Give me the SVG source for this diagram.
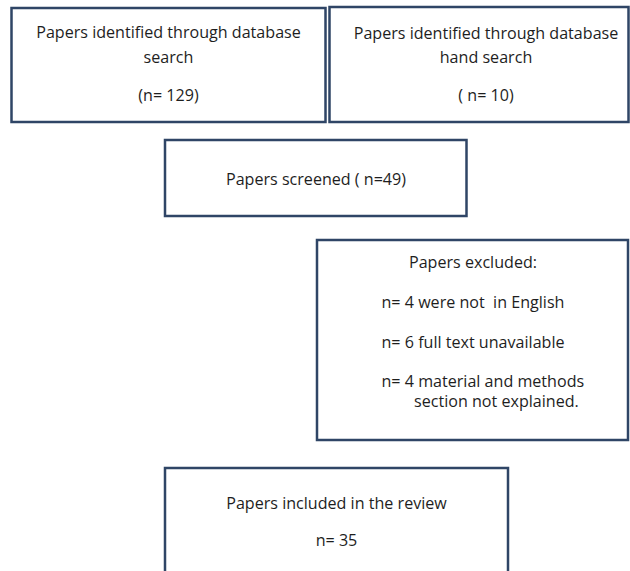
<svg xmlns="http://www.w3.org/2000/svg" width="630" height="571" viewBox="0 0 630 571">
<style>
.box{fill:#ffffff;stroke:#2f4566;stroke-width:2.5}
text{font-family:"Open Sans","Noto Sans","Liberation Sans",sans-serif;font-size:16.1px;fill:#1e1e1e}
.c{text-anchor:middle}
</style>
<rect width="630" height="571" fill="#ffffff"/>
<g id="connectors"></g>
<g id="node-db-search">
<rect class="box" x="11.5" y="8" width="314" height="114"/>
<text class="c" x="168.5" y="38">Papers identified through database</text>
<text class="c" x="168.5" y="63">search</text>
<text class="c" x="168.5" y="101">(n= 129)</text>
</g>
<g id="node-hand-search">
<rect class="box" x="329.5" y="7" width="299" height="115"/>
<text class="c" x="486" y="39">Papers identified through database</text>
<text class="c" x="486" y="63">hand search</text>
<text class="c" x="486" y="101">( n= 10)</text>
</g>
<g id="node-screened">
<rect class="box" x="165" y="140" width="301.5" height="76"/>
<text class="c" x="316" y="185">Papers screened ( n=49)</text>
</g>
<g id="node-excluded">
<rect class="box" x="317" y="240" width="311" height="200"/>
<text class="c" x="473" y="268">Papers excluded:</text>
<text x="381.5" y="308" xml:space="preserve">n= 4 were not  in English</text>
<text x="381.5" y="347.5">n= 6 full text unavailable</text>
<text x="381.5" y="387">n= 4 material and methods</text>
<text x="414" y="407">section not explained.</text>
</g>
<g id="node-included">
<rect class="box" x="165" y="468" width="343" height="110"/>
<text class="c" x="336.5" y="509">Papers included in the review</text>
<text class="c" x="336.5" y="546">n= 35</text>
</g>
</svg>
